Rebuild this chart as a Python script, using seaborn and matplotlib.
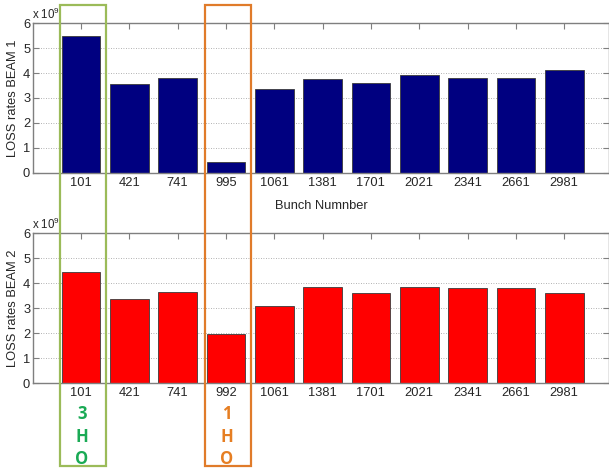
import matplotlib
matplotlib.use("Agg")
import matplotlib.pyplot as plt
import matplotlib.transforms as mtransforms
from matplotlib.patches import Rectangle
import seaborn as sns
import pandas as pd

bunches_b1 = ["101", "421", "741", "995", "1061", "1381", "1701", "2021", "2341", "2661", "2981"]
loss_b1 = [5.50, 3.56, 3.81, 0.43, 3.37, 3.77, 3.59, 3.93, 3.79, 3.79, 4.13]
bunches_b2 = ["101", "421", "741", "992", "1061", "1381", "1701", "2021", "2341", "2661", "2981"]
loss_b2 = [4.45, 3.36, 3.63, 1.96, 3.09, 3.83, 3.59, 3.85, 3.81, 3.81, 3.59]
yticks = [0, 1, 2, 3, 4, 5, 6]
box_green_label = ["3", "H", "O"]
box_orange_label = ["1", "H", "O"]

sns.set_style("white")
plt.rcParams["font.family"] = ["Liberation Sans", "DejaVu Sans"]
plt.rcParams["mathtext.fontset"] = "custom"
plt.rcParams["mathtext.rm"] = "Liberation Sans"

fig = plt.figure(figsize=(6.09, 4.70), dpi=100)
ax1 = fig.add_axes([0.0542, 0.632, 0.946, 0.319])
ax2 = fig.add_axes([0.0542, 0.185, 0.946, 0.319])

FS = 9.3

def draw(ax, cats, vals, color, ylabel, xlabel=None):
    df = pd.DataFrame({"bunch": cats, "loss": vals})
    sns.barplot(data=df, x="bunch", y="loss", order=cats, color=color,
                width=0.8, edgecolor="#3a3a3a", linewidth=0.6, saturation=1, ax=ax)
    ax.set_xlim(-0.99, 10.93)
    ax.set_ylim(0, 6)
    ax.set_yticks(yticks)
    ax.set_yticklabels([str(v) for v in yticks])
    ax.grid(axis="y", linestyle=(0, (1, 2)), color="#999999", linewidth=0.6)
    ax.set_axisbelow(True)
    for s in ax.spines.values():
        s.set_visible(True)
        s.set_color("#7f7f7f")
        s.set_linewidth(1.0)
    ax.tick_params(axis="x", which="both", top=True, bottom=False, direction="in",
                   length=4, color="#7f7f7f", labelsize=FS, pad=3)
    ax.tick_params(axis="y", which="both", left=True, right=True, direction="in",
                   length=4, color="#7f7f7f", labelsize=FS, pad=2)
    ax.set_ylabel(ylabel, fontsize=FS, labelpad=3)
    ax.set_xlabel(xlabel if xlabel else "", fontsize=FS, labelpad=8)
    ax.text(-0.002, 1.01, r"x 10$^{\mathrm{9}}$", transform=ax.transAxes, fontsize=8.3,
            ha="left", va="bottom")

draw(ax1, bunches_b1, loss_b1, "#000080", "LOSS rates BEAM 1", "Bunch Numnber")
draw(ax2, bunches_b2, loss_b2, "#ff0000", "LOSS rates BEAM 2")

trans = mtransforms.blended_transform_factory(ax1.transData, fig.transFigure)
y0, y1 = 0.0085, 0.989
for xc, ec, tc, labels in [(0, "#9bbb59", "#1aaa55", box_green_label),
                           (3, "#e07b2a", "#e67e22", box_orange_label)]:
    rect = Rectangle((xc - 0.44, y0), 0.96, y1 - y0, transform=trans,
                     fill=False, edgecolor=ec, linewidth=1.6, clip_on=False)
    fig.add_artist(rect)
    for i, lab in enumerate(labels):
        fig.text(xc + 0.02, 1 - (414 + 22.5 * i) / 470, lab, transform=trans, color=tc,
                 fontsize=12, fontweight="bold", ha="center", va="center",
                 family=["Open Sans", "DejaVu Sans"])

fig.savefig("out.png", dpi=100)
